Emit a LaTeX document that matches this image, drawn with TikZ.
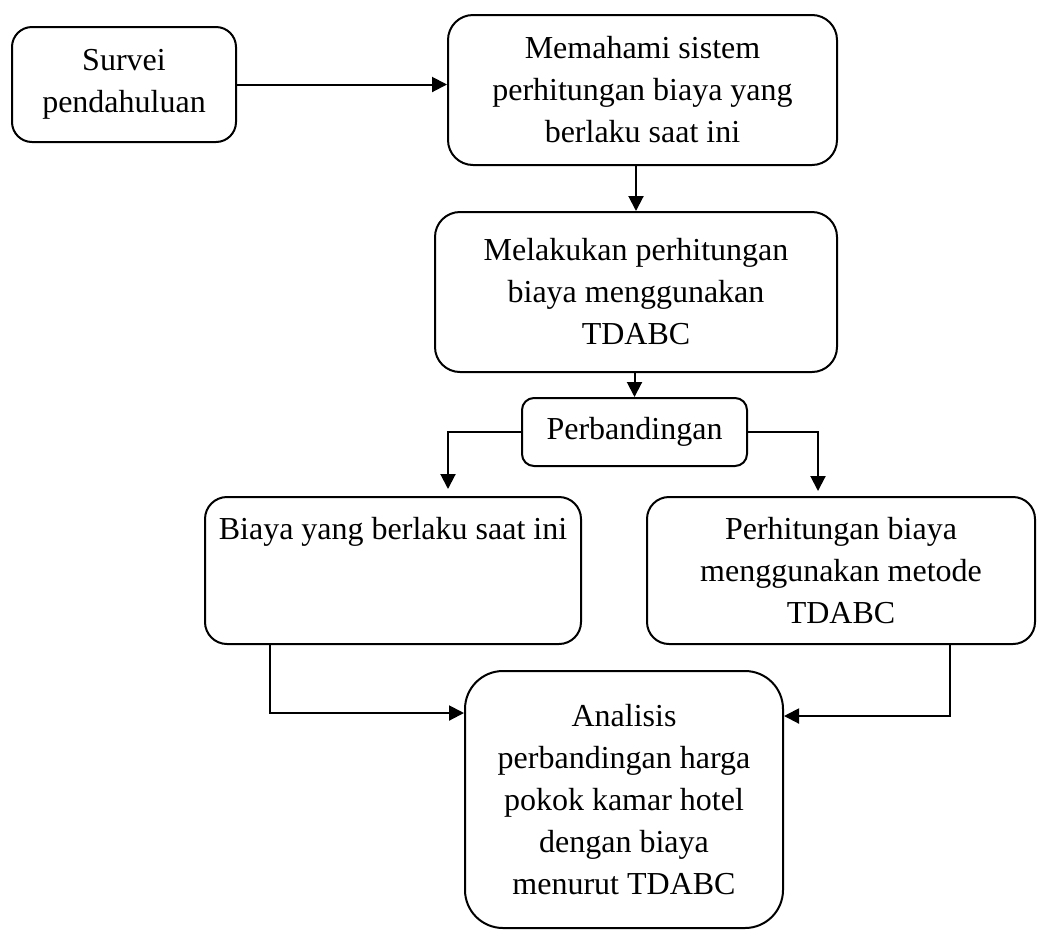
\documentclass[tikz,border=0pt]{standalone}
\usepackage{fontspec}
\setmainfont{Liberation Serif}
\usetikzlibrary{positioning,arrows.meta}

\begin{document}
\begin{tikzpicture}[x=1pt, y=-1pt, line width=2pt, >={Triangle[length=15pt,width=15pt]},
    box/.style={draw, rectangle, rounded corners=22pt, align=center, inner sep=0pt, font=\fontsize{32}{42}\selectfont}]
    \useasboundingbox (0,0) rectangle (1048,930);

    \node (survei) [box, rounded corners=20pt, minimum width=224pt, minimum height=115pt] at (124,84.5) {Survei\\pendahuluan};
    \node (memahami) [box, rounded corners=25pt, minimum width=389pt, minimum height=150pt] at (642.5,90) {Memahami sistem\\perhitungan biaya yang\\berlaku saat ini};
    \node (melakukan) [box, rounded corners=25pt, minimum width=402pt, minimum height=160pt] at (636,292) {Melakukan perhitungan\\biaya menggunakan\\TDABC};
    \node (perbandingan) [box, rounded corners=12pt, minimum width=225pt, minimum height=68pt] at (634.5,432) {Perbandingan};
    \node (biaya) [box, minimum width=376pt, minimum height=147pt] at (393,570.5) {Biaya yang berlaku saat ini\\~\\~};
    \node (metode) [box, minimum width=388pt, minimum height=147pt] at (841,570.5) {Perhitungan biaya\\menggunakan metode\\TDABC};
    \node (analisis) [box, rounded corners=38pt, minimum width=318pt, minimum height=257pt] at (624,799.5) {Analisis\\perbandingan harga\\pokok kamar hotel\\dengan biaya\\menurut TDABC};

    \draw[->] (survei) -- (survei -| memahami.west);
    \draw[->] (memahami.south -| melakukan.north) -- (melakukan.north);
    \draw[->] (melakukan.south -| perbandingan.north) -- (perbandingan.north);
    \draw[->] (perbandingan.west) -| ([xshift=55pt,yshift=7pt]biaya.north);
    \draw[->] (perbandingan.east) -| ([xshift=-23pt,yshift=5pt]metode.north);
    \draw[->] ([xshift=-123pt]biaya.south) |- ([yshift=86.5pt]analisis.west);
    \draw[->] ([xshift=109pt]metode.south) |- ([yshift=83.5pt]analisis.east);
\end{tikzpicture}
\end{document}
